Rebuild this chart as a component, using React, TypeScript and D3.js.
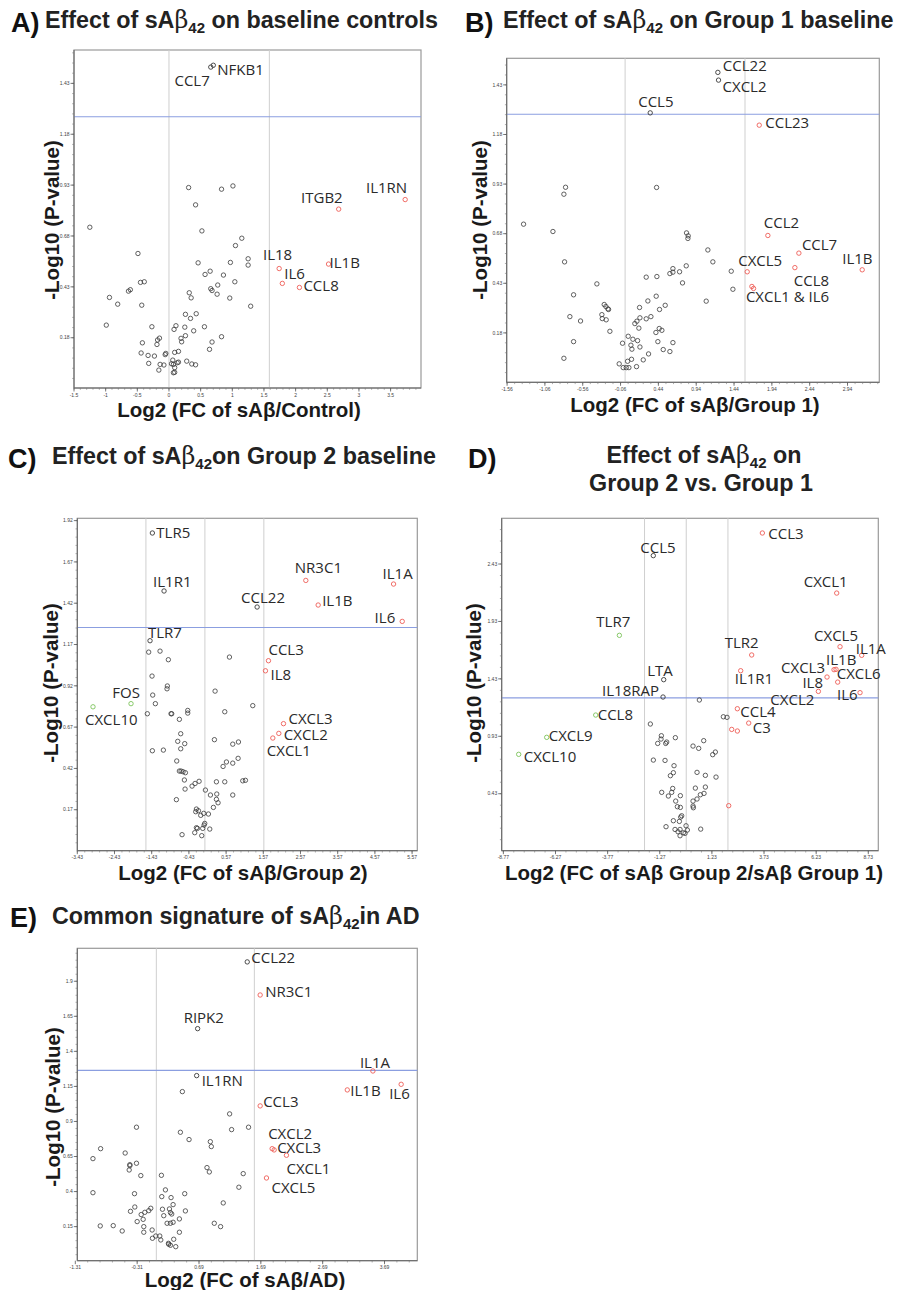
import React from 'react';
import * as d3 from 'd3';

// ---------- DATA ----------
// Panel A: Effect of sAβ42 on baseline controls
const A_PTS: [number, number][] = [
  [0.31,0.918],[0.83,0.91],[1.01,0.926],[0.42,0.833],[-1.25,0.723],[0.52,0.705],[1.15,0.669],[1.05,0.633],
  [-0.49,0.594],[1.25,0.568],[1.25,0.537],[0.46,0.548],[0.97,0.55],[0.65,0.507],[0.57,0.491],[0.86,0.488],
  [1.04,0.455],[0.77,0.439],[0.66,0.421],[0.68,0.412],[0.76,0.394],[-0.45,0.452],[-0.39,0.455],[-0.64,0.409],
  [-0.61,0.416],[0.32,0.401],[0.35,0.376],[0.96,0.375],[1.29,0.335],[-0.94,0.378],[-0.81,0.345],[-0.43,0.34],
  [0.43,0.298],[0.26,0.295],[0.34,0.275],[-0.99,0.242],[-0.27,0.234],[0.11,0.239],[0.08,0.221],[0.25,0.232],
  [0.56,0.234],[0.39,0.214],[0.83,0.185],[0.26,0.19],[0.19,0.177],[0.2,0.16],[-0.15,0.178],[-0.18,0.169],
  [-0.19,0.147],[-0.42,0.155],[0.68,0.159],[0.64,0.123],[-0.44,0.105],[-0.33,0.093],[-0.23,0.09],[-0.05,0.103],
  [-0.06,0.097],[0.09,0.108],[0.15,0.113],[-0.32,0.054],[-0.14,0.049],[-0.08,0.046],[-0.16,0.021],[0.06,0.07],
  [0.13,0.057],[0.07,0.049],[0.04,0.052],[0.09,0.033],[0.07,0.008],[0.09,0.01],[0.28,0.065],[0.36,0.051],
  [0.42,0.047],[0.15,0.06]
];
const A_GENES: [string, number, number, string][] = [
  ['NFKB1',0.70,1.519,'k'],['CCL7',0.66,1.51,'k'],['ITGB2',2.68,0.812,'r'],['IL1RN',3.73,0.859,'r'],
  ['IL18',1.74,0.52,'r'],['IL1B',2.52,0.542,'r'],['IL6',1.79,0.447,'r'],['CCL8',2.06,0.427,'r']
];
const A_XTICKS = [-1.5,-1,-0.5,0,0.5,1,1.5,2,2.5,3,3.5];
const A_XLABELS = ['-1.5','-1','-0.5','0','0.5','1','1.5','2','2.5','3','3.5'];
const A_YTICKS = [0.18,0.43,0.68,0.93,1.18,1.43];
const A_YLABELS = ['0.18','0.43','0.68','0.93','1.18','1.43'];
const A_VLINES = [0, 1.585];
const A_HLINE = 1.266;

// Panel B: Effect of sAβ42 on Group 1 baseline
const B_PTS: [number, number][] = [
  [0.416,0.913],[-0.787,0.914],[-0.809,0.879],[-1.342,0.728],[-0.954,0.691],[-0.8,0.538],[-0.373,0.427],[-0.681,0.372],
  [-0.73,0.262],[-0.589,0.24],[-0.681,0.136],[-0.809,0.052],[-0.276,0.323],[-0.254,0.313],[-0.227,0.301],[-0.219,0.298],
  [-0.307,0.272],[-0.302,0.252],[-0.25,0.246],[-0.201,0.188],[0.812,0.684],[0.834,0.669],[0.83,0.656],[1.094,0.598],
  [1.16,0.538],[0.808,0.518],[0.632,0.504],[0.632,0.486],[0.592,0.479],[0.72,0.488],[0.279,0.461],[0.42,0.464],
  [0.759,0.432],[1.403,0.491],[1.425,0.4],[1.072,0.34],[0.411,0.365],[0.301,0.341],[0.53,0.319],[0.455,0.298],
  [0.191,0.308],[0.341,0.262],[0.279,0.251],[0.196,0.256],[0.156,0.239],[0.129,0.227],[0.182,0.204],[0.407,0.182],
  [0.451,0.202],[0.486,0.193],[0.041,0.163],[0.103,0.148],[0.165,0.141],[-0.034,0.128],[0.077,0.118],[0.09,0.098],
  [0.196,0.109],[0.433,0.136],[0.632,0.131],[0.504,0.096],[0.592,0.086],[0.31,0.074],[0.24,0.044],[0.085,0.047],
  [0.033,0.037],[-0.078,0.024],[-0.025,0.005],[0.015,0.005],[0.05,0.005],[0.151,0.01]
];
const B_GENES: [string, number, number, string][] = [
  ['CCL22',1.226,1.493,'k'],['CXCL2',1.235,1.454,'k'],['CCL5',0.332,1.289,'k'],['CCL23',1.773,1.227,'r'],
  ['CCL2',1.887,0.671,'r'],['CCL7',2.297,0.582,'r'],['IL1B',3.134,0.498,'r'],['CXCL5',1.614,0.488,'r'],
  ['CCL8',2.244,0.509,'r'],['CXCL1',1.676,0.414,'r'],['IL6',1.698,0.404,'r']
];
const B_XTICKS = [-1.56,-1.06,-0.56,-0.06,0.44,0.94,1.44,1.94,2.44,2.94];
const B_XLABELS = ['-1.56','-1.06','-0.56','-0.06','0.44','0.94','1.44','1.94','2.44','2.94'];
const B_YTICKS = [0.18,0.43,0.68,0.93,1.18,1.43];
const B_YLABELS = ['0.18','0.43','0.68','0.93','1.18','1.43'];
const B_VLINES = [0, 1.585];
const B_HLINE = 1.282;

// Panel C: Effect of sAβ42 on Group 2 baseline
const C_PTS: [number, number][] = [
  [-1.511,1.124],[-1.206,1.13],[-0.982,1.078],[0.66,1.094],[-1.421,0.979],[-1.009,0.919],[-1.018,0.902],[0.274,0.888],
  [-1.403,0.864],[-1.331,0.812],[-1.547,0.751],[-0.91,0.751],[-0.892,0.751],[-0.461,0.771],[-0.461,0.755],[-0.686,0.717],
  [0.534,0.763],[1.287,0.8],[-0.65,0.63],[-0.73,0.584],[-0.542,0.57],[-0.65,0.539],[0.256,0.594],[0.749,0.567],
  [0.902,0.58],[-1.412,0.527],[-1.116,0.531],[-0.757,0.465],[-0.686,0.404],[-0.641,0.404],[-0.587,0.4],[-0.524,0.394],
  [-0.551,0.35],[-0.533,0.295],[-0.766,0.231],[-0.345,0.313],[-0.264,0.329],[-0.156,0.342],[0.014,0.289],[0.149,0.259],
  [0.31,0.339],[0.534,0.339],[0.319,0.265],[0.31,0.233],[0.354,0.212],[0.229,0.184],[0.489,0.432],[0.579,0.459],
  [0.749,0.452],[0.893,0.481],[0.749,0.259],[1.018,0.345],[1.09,0.348],[-0.228,0.174],[-0.174,0.164],[-0.246,0.158],
  [-0.112,0.136],[-0.031,0.148],[0.095,0.144],[-0.004,0.087],[-0.022,0.077],[-0.228,0.061],[-0.201,0.057],[-0.058,0.057],
  [0.131,0.053],[-0.273,0.031],[-0.085,0.013],[-0.614,0.019]
];
const C_GENES: [string, number, number, string][] = [
  ['TLR5',-1.412,1.845,'k'],['IL1R1',-1.098,1.494,'k'],['CCL22',1.404,1.397,'k'],['NR3C1',2.713,1.558,'r'],
  ['IL1B',3.045,1.409,'r'],['IL1A',5.072,1.536,'r'],['IL6',5.305,1.31,'r'],['TLR7',-1.475,1.193,'k'],
  ['CCL3',1.709,1.072,'r'],['IL8',1.628,1.011,'r'],['FOS',-1.986,0.812,'g'],['CXCL10',-3.008,0.793,'g'],
  ['CXCL3',2.113,0.691,'r'],['CXCL2',1.987,0.632,'r'],['CXCL1',1.826,0.604,'r']
];
const C_XTICKS = [-3.43,-2.43,-1.43,-0.43,0.57,1.57,2.57,3.57,4.57,5.57];
const C_XLABELS = ['-3.43','-2.43','-1.43','-0.43','0.57','1.57','2.57','3.57','4.57','5.57'];
const C_YTICKS = [0.17,0.42,0.67,0.92,1.17,1.42,1.67,1.92];
const C_YLABELS = ['0.17','0.42','0.67','0.92','1.17','1.42','1.67','1.92'];
const C_VLINES = [-1.585, 0, 1.585];
const C_HLINE = 1.273;

// Panel D: Effect of sAβ42 on Group 2 vs. Group 1
const D_PTS: [number, number][] = [
  [0.629,1.246],[1.78,1.1],[1.956,1.095],[-1.721,1.037],[-1.193,0.935],[-1.209,0.906],[-1.369,0.868],[-0.937,0.88],
  [-0.985,0.868],[-0.522,0.918],[0.325,0.845],[0.597,0.825],[0.837,0.892],[1.396,0.793],[1.268,0.77],[-1.577,0.723],
  [-1.017,0.72],[-0.586,0.674],[-0.618,0.613],[-0.761,0.587],[0.517,0.616],[0.917,0.59],[1.428,0.575],[-1.177,0.442],
  [-0.857,0.41],[-0.697,0.442],[-0.649,0.476],[-0.282,0.413],[0.437,0.479],[0.917,0.488],[0.853,0.433],[0.677,0.421],
  [0.517,0.384],[0.325,0.366],[0.325,0.323],[0.341,0.308],[-0.506,0.366],[-0.426,0.317],[-0.282,0.311],[-0.218,0.238],
  [-0.266,0.227],[-0.618,0.195],[-0.33,0.189],[-0.97,0.143],[-0.538,0.119],[-0.298,0.119],[-0.01,0.151],[0.054,0.114],
  [-0.138,0.09],[-0.058,0.085],[-0.298,0.064],[0.693,0.122],[-0.394,0.099]
];
const D_GENES: [string, number, number, string][] = [
  ['CCL3',3.65,2.70,'r'],['CCL5',-1.58,2.503,'k'],['CXCL1',7.215,2.177,'r'],['TLR7',-3.207,1.809,'g'],
  ['CXCL5',7.375,1.71,'r'],['IL1A',8.414,1.635,'r'],['TLR2',3.138,1.638,'r'],['IL1R1',2.611,1.501,'r'],
  ['IL1B',7.183,1.513,'r'],['CXCL3',7.087,1.51,'r'],['CXCL6',7.263,1.402,'r'],['IL8',6.751,1.446,'r'],
  ['IL6',8.334,1.31,'r'],['CXCL2',6.336,1.321,'r'],['LTA',-1.081,1.423,'k'],['IL18RAP',-1.113,1.272,'k'],
  ['CCL8',-4.342,1.115,'g'],['CXCL9',-6.692,0.921,'g'],['CXCL10',-8.035,0.773,'g'],['CCL4',2.451,1.17,'r'],
  ['C3',2.995,1.045,'r'],['r1',2.18,0.99,'r'],['r2',2.451,0.976,'r'],['r3',2.036,0.326,'r']
];
const D_XTICKS = [-8.77,-6.27,-3.77,-1.27,1.23,3.73,6.23,8.73];
const D_XLABELS = ['-8.77','-6.27','-3.77','-1.27','1.23','3.73','6.23','8.73'];
const D_YTICKS = [0.43,0.93,1.43,1.93,2.43];
const D_YLABELS = ['0.43','0.93','1.43','1.93','2.43'];
const D_VLINES = [-2, 0, 2];
const D_HLINE = 1.265;

// Panel E: Common signature of sAβ42 in AD
const E_PTS: [number, number][] = [
  [0.421,1.113],[1.185,0.954],[1.217,0.842],[1.491,0.859],[-0.321,0.859],[0.389,0.823],[0.529,0.771],[0.873,0.756],
  [0.889,0.721],[-0.901,0.706],[-1.025,0.635],[-0.504,0.675],[-0.428,0.592],[-0.428,0.585],[-0.321,0.602],[-0.439,0.554],
  [-0.251,0.514],[0.082,0.516],[0.819,0.571],[0.857,0.54],[1.405,0.528],[1.335,0.431],[0.147,0.412],[0.459,0.385],
  [0.088,0.364],[0.238,0.357],[-1.025,0.392],[-0.353,0.385],[1.082,0.319],[0.271,0.307],[-0.348,0.29],[-0.418,0.259],
  [-0.186,0.252],[-0.122,0.264],[-0.09,0.281],[0.099,0.274],[0.212,0.276],[0.228,0.25],[0.249,0.24],[0.12,0.228],
  [0.47,0.262],[-0.245,0.236],[-0.213,0.202],[-0.31,0.186],[0.271,0.181],[0.174,0.174],[0.228,0.174],[0.373,0.205],
  [0.937,0.174],[1.039,0.15],[-0.907,0.155],[-0.697,0.157],[-0.552,0.119],[-0.203,0.15],[-0.203,0.11],[-0.068,0.126],
  [-0.063,0.067],[-0.009,0.083],[0.056,0.083],[0.072,0.055],[0.281,0.06],[0.373,0.11],[0.201,0.024],[0.228,0.017],
  [0.314,0.007],[0.196,0.031]
];
const E_GENES: [string, number, number, string][] = [
  ['CCL22',1.47,2.038,'k'],['NR3C1',1.679,1.802,'r'],['RIPK2',0.668,1.562,'k'],['IL1A',3.502,1.26,'r'],
  ['IL1RN',0.652,1.227,'k'],['IL1B',3.088,1.125,'r'],['IL6',3.959,1.165,'r'],['CCL3',1.679,1.011,'r'],
  ['CXCL2',1.873,0.706,'r'],['CXCL3',1.905,0.697,'r'],['CXCL1',2.104,0.659,'r'],['CXCL5',1.781,0.497,'r']
];
const E_XTICKS = [-1.31,-0.31,0.69,1.69,2.69,3.69];
const E_XLABELS = ['-1.31','-0.31','0.69','1.69','2.69','3.69'];
const E_YTICKS = [0.15,0.4,0.65,0.9,1.15,1.4,1.65,1.9];
const E_YLABELS = ['0.15','0.4','0.65','0.9','1.15','1.4','1.65','1.9'];
const E_VLINES = [0, 1.585];
const E_HLINE = 1.264;

// ---------- LAYOUT / STYLE ----------
type LabelMap = Record<string, [string, number, number, string]>;
interface PanelCfg {
  l: number; t: number; r: number; b: number;
  xd: [number, number]; yd: [number, number];
  xt: number[]; xtl: string[]; xm: number;
  yt: number[]; ytl: string[]; ym: number;
  vl: number[]; hl: number;
  pts: [number, number][]; genes: [string, number, number, string][];
  labels: LabelMap;
  xLab: string; xLabX: number; xLabY: number;
  yLabX: number; yLabY: number;
}

const COLORS: Record<string, string> = { k: '#3a3a3a', r: '#ee5d57', g: '#7cc35a' };

const PANELS: PanelCfg[] = [
  {
    l: 74, t: 50, r: 421, b: 388, xd: [-1.5, 3.98], yd: [-0.067, 1.594],
    xt: A_XTICKS, xtl: A_XLABELS, xm: 0.1, yt: A_YTICKS, ytl: A_YLABELS, ym: 0.05,
    vl: A_VLINES, hl: A_HLINE, pts: A_PTS, genes: A_GENES,
    labels: {
      NFKB1: ['NFKB1', 4, 10, 'start'], CCL7: ['CCL7', -1, 19, 'end'], ITGB2: ['ITGB2', 4, -6, 'end'],
      IL1RN: ['IL1RN', 2, -7, 'end'], IL18: ['IL18', 13, -9, 'end'], IL1B: ['IL1B', 1, 4, 'start'],
      IL6: ['IL6', 2, -4, 'start'], CCL8: ['CCL8', 4, 4, 'start'],
    },
    xLab: 'Log2 (FC of sAβ/Control)', xLabX: 239, xLabY: 417, yLabX: 51, yLabY: 220,
  },
  {
    l: 506.7, t: 58.3, r: 879.3, b: 382.3, xd: [-1.565, 3.36], yd: [-0.069, 1.564],
    xt: B_XTICKS, xtl: B_XLABELS, xm: 0.1, yt: B_YTICKS, ytl: B_YLABELS, ym: 0.05,
    vl: B_VLINES, hl: B_HLINE, pts: B_PTS, genes: B_GENES,
    labels: {
      CCL22: ['CCL22', 5, -1, 'start'], CXCL2: ['CXCL2', 4, 12, 'start'], CCL5: ['CCL5', -12, -6, 'start'],
      CCL23: ['CCL23', 6, 3, 'start'], CCL2: ['CCL2', -4, -7, 'start'], CCL7: ['CCL7', 3, -3, 'start'],
      IL1B: ['IL1B', -20, -6, 'start'], CXCL5: ['CXCL5', -9, -6, 'start'], CCL8: ['CCL8', -1, 18, 'start'],
      CXCL1: ['CXCL1 & IL6', -6, 16, 'start'],
    },
    xLab: 'Log2 (FC of sAβ/Group 1)', xLabX: 695, xLabY: 412, yLabX: 479, yLabY: 220,
  },
  {
    l: 77.3, t: 518.3, r: 417.3, b: 850.7, xd: [-3.43, 5.71], yd: [-0.078, 1.934],
    xt: C_XTICKS, xtl: C_XLABELS, xm: 0.2, yt: C_YTICKS, ytl: C_YLABELS, ym: 0.05,
    vl: C_VLINES, hl: C_HLINE, pts: C_PTS, genes: C_GENES,
    labels: {
      TLR5: ['TLR5', 4, 5, 'start'], IL1R1: ['IL1R1', -11, -4, 'start'], CCL22: ['CCL22', -16, -4, 'start'],
      NR3C1: ['NR3C1', -11, -7, 'start'], IL1B: ['IL1B', 4, 1, 'start'], IL1A: ['IL1A', -11, -5, 'start'],
      IL6: ['IL6', -7, 2, 'end'], TLR7: ['TLR7', -2, -3, 'start'], CCL3: ['CCL3', 0, -6, 'start'],
      IL8: ['IL8', 5, 9, 'start'], FOS: ['FOS', 9, -6, 'end'], CXCL10: ['CXCL10', -8, 18, 'start'],
      CXCL3: ['CXCL3', 5, 0, 'start'], CXCL2: ['CXCL2', 5, 7, 'start'], CXCL1: ['CXCL1', -6, 18, 'start'],
    },
    xLab: 'Log2 (FC of sAβ/Group 2)', xLabX: 243, xLabY: 880, yLabX: 50, yLabY: 683,
  },
  {
    l: 501.7, t: 518.3, r: 878.3, b: 850.7, xd: [-8.85, 9.21], yd: [-0.066, 2.828],
    xt: D_XTICKS, xtl: D_XLABELS, xm: 0.5, yt: D_YTICKS, ytl: D_YLABELS, ym: 0.1,
    vl: D_VLINES, hl: D_HLINE, pts: D_PTS, genes: D_GENES,
    labels: {
      CCL3: ['CCL3', 6, 6, 'start'], CCL5: ['CCL5', -13, -3, 'start'], CXCL1: ['CXCL1', -33, -6, 'start'],
      TLR7: ['TLR7', -23, -8, 'start'], CXCL5: ['CXCL5', -26, -6, 'start'], IL1A: ['IL1A', -6, -1, 'start'],
      TLR2: ['TLR2', -27, -7, 'start'], IL1B: ['IL1B', -10, -4, 'start'], CXCL3: ['CXCL3', -9, 3, 'end'],
      CXCL6: ['CXCL6', -1, -3, 'start'], IL8: ['IL8', -4, 11, 'end'], IL6: ['IL6', -23, 7, 'start'],
      CXCL2: ['CXCL2', -48, 14, 'start'], IL1R1: ['IL1R1', -6, 13, 'start'], LTA: ['LTA', 9, -4, 'end'],
      IL18RAP: ['IL18RAP', -4, -1, 'end'], CCL8: ['CCL8', 2, 5, 'start'], CXCL9: ['CXCL9', 2, 4, 'start'],
      CXCL10: ['CXCL10', 5, 8, 'start'], CCL4: ['CCL4', 3, 8, 'start'], C3: ['C3', 4, 10, 'start'],
    },
    xLab: 'Log2 (FC of sAβ Group 2/sAβ Group 1)', xLabX: 694, xLabY: 880, yLabX: 473, yLabY: 683,
  },
  {
    l: 77.3, t: 948.3, r: 417.3, b: 1260.7, xd: [-1.278, 4.22], yd: [-0.093, 2.135],
    xt: E_XTICKS, xtl: E_XLABELS, xm: 0.2, yt: E_YTICKS, ytl: E_YLABELS, ym: 0.05,
    vl: E_VLINES, hl: E_HLINE, pts: E_PTS, genes: E_GENES,
    labels: {
      CCL22: ['CCL22', 4, 1, 'start'], NR3C1: ['NR3C1', 5, 2, 'start'], RIPK2: ['RIPK2', -14, -6, 'start'],
      IL1A: ['IL1A', -13, -3, 'start'], IL1RN: ['IL1RN', 5, 10, 'start'], IL1B: ['IL1B', 3, 6, 'start'],
      IL6: ['IL6', -12, 15, 'start'], CCL3: ['CCL3', 3, 1, 'start'], CXCL2: ['CXCL2', -4, -10, 'start'],
      CXCL3: ['CXCL3', 3, 3, 'start'], CXCL1: ['CXCL1', 0, 19, 'start'], CXCL5: ['CXCL5', 5, 15, 'start'],
    },
    xLab: 'Log2 (FC of sAβ/AD)', xLabX: 245, xLabY: 1287, yLabX: 52, yLabY: 1107,
  },
];

const SANS = "'Liberation Sans', Arial, Helvetica, sans-serif";
const LABEL_FONT = "'Open Sans', 'DejaVu Sans', sans-serif";

function minorTicks(major: number[], step: number, dom: [number, number]) {
  const out: number[] = [];
  const base = major[0];
  const n0 = Math.ceil((dom[0] - base) / step - 1e-9);
  const n1 = Math.floor((dom[1] - base) / step + 1e-9);
  for (let i = n0; i <= n1; i++) out.push(base + i * step);
  return out;
}

function Panel({ c }: { c: PanelCfg }) {
  const x = d3.scaleLinear().domain(c.xd).range([c.l, c.r]);
  const y = d3.scaleLinear().domain(c.yd).range([c.b, c.t]);
  const xMinor = minorTicks(c.xt, c.xm, c.xd);
  const yMinor = minorTicks(c.yt, c.ym, c.yd);
  return (
    <g>
      <rect x={c.l} y={c.t} width={c.r - c.l} height={c.b - c.t} fill="white" stroke="#9a9a9a" strokeWidth={1.2} />
      {c.vl.map((v, i) => (
        <line key={'v' + i} x1={x(v)} x2={x(v)} y1={c.t} y2={c.b} stroke="#cfcfcf" strokeWidth={1} />
      ))}
      <line x1={c.l} x2={c.r} y1={y(c.hl)} y2={y(c.hl)} stroke="#8b9ee0" strokeWidth={1.2} />
      <line x1={c.l} x2={c.l} y1={c.t} y2={c.b} stroke="#666" strokeWidth={1} />
      <line x1={c.l} x2={c.r} y1={c.b} y2={c.b} stroke="#666" strokeWidth={1} />
      {xMinor.map((v, i) => (
        <line key={'xm' + i} x1={x(v)} x2={x(v)} y1={c.b} y2={c.b + 1.8} stroke="#777" strokeWidth={0.6} />
      ))}
      {yMinor.map((v, i) => (
        <line key={'ym' + i} x1={c.l - 1.8} x2={c.l} y1={y(v)} y2={y(v)} stroke="#777" strokeWidth={0.6} />
      ))}
      {c.xt.map((v, i) => (
        <g key={'xt' + i}>
          <line x1={x(v)} x2={x(v)} y1={c.b} y2={c.b + 3.5} stroke="#555" strokeWidth={0.8} />
          <text x={x(v)} y={c.b + 8.5} fontSize={5} fontFamily={SANS} fill="#444" textAnchor="middle">{c.xtl[i]}</text>
        </g>
      ))}
      {c.yt.map((v, i) => (
        <g key={'yt' + i}>
          <line x1={c.l - 3.5} x2={c.l} y1={y(v)} y2={y(v)} stroke="#555" strokeWidth={0.8} />
          <text x={c.l - 4.5} y={y(v) + 1.7} fontSize={5} fontFamily={SANS} fill="#444" textAnchor="end">{c.ytl[i]}</text>
        </g>
      ))}
      {c.pts.map((p, i) => (
        <circle key={'p' + i} cx={x(p[0])} cy={y(p[1])} r={2.2} fill="none" stroke={COLORS.k} strokeWidth={0.8} />
      ))}
      {c.genes.map((g, i) => (
        <circle key={'g' + i} cx={x(g[1])} cy={y(g[2])} r={2.2} fill="none" stroke={COLORS[g[3]]} strokeWidth={0.9} />
      ))}
      {c.genes.map((g, i) => {
        const lab = c.labels[g[0]];
        if (!lab) return null;
        return (
          <text key={'l' + i} x={x(g[1]) + lab[1]} y={y(g[2]) + lab[2]} fontSize={15} fontFamily={LABEL_FONT}
            fill="#2a2a2a" textAnchor={lab[3] as any}>{lab[0]}</text>
        );
      })}
      <text x={c.xLabX} y={c.xLabY} fontSize={20.5} fontWeight="bold" fontFamily={SANS} fill="#1a1a1a" textAnchor="middle">{c.xLab}</text>
      <text transform={`translate(${c.yLabX},${c.yLabY}) rotate(-90)`} fontSize={20.5} fontWeight="bold" fontFamily={SANS}
        fill="#1a1a1a" textAnchor="middle" dominantBaseline="central">-Log10 (P-value)</text>
    </g>
  );
}

function Title({ x, y, pre, post, anchor }: { x: number; y: number; pre: string; post: string; anchor?: string }) {
  return (
    <text x={x} y={y} fontSize={23.3} fontWeight="bold" fontFamily={SANS} fill="#222" textAnchor={(anchor || 'start') as any}>
      {pre}
      <tspan fontFamily="'DejaVu Serif', serif" fontWeight="normal" fontSize={24}>β</tspan>
      <tspan fontSize={15} dy={5}>42</tspan>
      <tspan dy={-5}>{post}</tspan>
    </text>
  );
}

function Letter({ x, y, t }: { x: number; y: number; t: string }) {
  return <text x={x} y={y} fontSize={27} fontWeight="bold" fontFamily={SANS} fill="#111">{t}</text>;
}

export default function App() {
  return (
    <svg width={900} height={1290} style={{ position: 'absolute', left: 0, top: 0, background: 'white' }}>
      <rect width={900} height={1290} fill="white" />
      <Letter x={11} y={32} t="A)" />
      <Title x={45} y={28} pre="Effect of sA" post=" on baseline controls" />
      <Letter x={465} y={32} t="B)" />
      <Title x={503} y={28} pre="Effect of sA" post=" on Group 1 baseline" />
      <Letter x={8} y={468} t="C)" />
      <Title x={52} y={464} pre="Effect of sA" post="on Group 2 baseline" />
      <Letter x={468} y={468} t="D)" />
      <Title x={704} y={463} pre="Effect of sA" post=" on" anchor="middle" />
      <text x={701} y={491} fontSize={23.3} fontWeight="bold" fontFamily={SANS} fill="#222" textAnchor="middle">Group 2 vs. Group 1</text>
      <Letter x={10} y={927} t="E)" />
      <Title x={52} y={924} pre="Common signature of sA" post="in AD" />
      {PANELS.map((c, i) => <Panel key={i} c={c} />)}
    </svg>
  );
}
